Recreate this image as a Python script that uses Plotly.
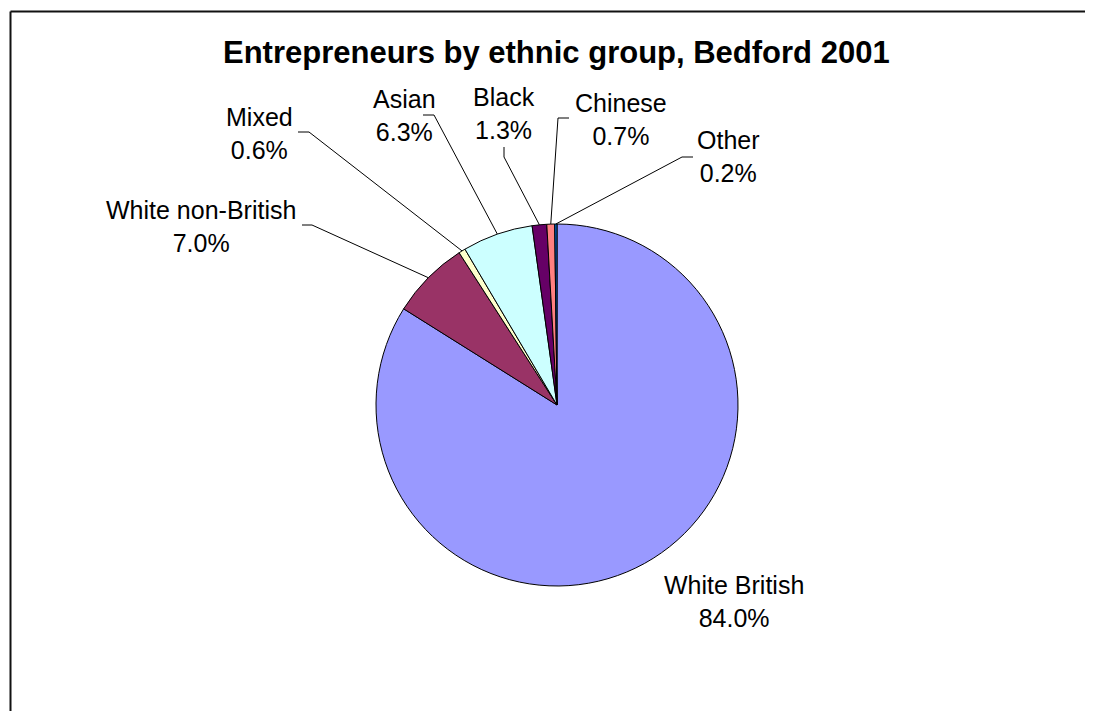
import math
import plotly.graph_objects as go

# ---- data ----
categories = ["White British", "White non-British", "Mixed", "Asian", "Black", "Chinese", "Other"]
shares = [84.0, 7.0, 0.6, 6.3, 1.3, 0.7, 0.2]
share_labels = ["84.0%", "7.0%", "0.6%", "6.3%", "1.3%", "0.7%", "0.2%"]
title_text = "Entrepreneurs by ethnic group, Bedford 2001"

# ---- style / layout ----
colors = ["#9999FF", "#993366", "#FFFFCC", "#CCFFFF", "#660066", "#FF8080", "#0066CC"]
PAGE_OFF = 8                       # browser body margin
W, H = 1093 - PAGE_OFF, 711 - PAGE_OFF
CX, CY, R = 557, 405, 181          # pie centre / radius in page pixels
FONT = "Liberation Sans, Arial, sans-serif"
# label block centres (page pixels)
label_pos = [(734, 601), (201, 226), (259, 133), (404, 115), (504, 113), (621, 119), (728, 157)]
# leader line: start point near label and elbow point (page pixels); None = no leader
leader = [None,
          ((302, 225), (312, 225)),
          ((298, 132), (309, 132)),
          ((423, 115), (434, 115)),
          ((504, 147), (504, 157)),
          ((569, 118), (558, 118)),
          ((693, 157), (682, 157))]


def px(x):
    return (x - PAGE_OFF) / W


def py(y):
    return 1 - (y - PAGE_OFF) / H


fig = go.Figure(go.Pie(
    labels=categories,
    values=shares,
    sort=False,
    direction="clockwise",
    rotation=0,
    marker=dict(colors=colors, line=dict(color="black", width=1)),
    textinfo="none",
    hoverinfo="label+percent",
    showlegend=False,
    domain=dict(x=[px(CX - R), px(CX + R)], y=[py(CY + R), py(CY - R)]),
))

total = sum(shares)
annotations = []
shapes = []
cum = 0.0
for i, (cat, v) in enumerate(zip(categories, shares)):
    mid = (cum + v / 2) / total * 2 * math.pi
    cum += v
    ex = CX + R * math.sin(mid)
    ey = CY - R * math.cos(mid)
    lx, ly = label_pos[i]
    annotations.append(dict(
        x=px(lx), y=py(ly), xref="paper", yref="paper",
        text=f"{cat}<br>{share_labels[i]}", showarrow=False,
        xanchor="center", yanchor="middle", align="center",
        font=dict(family=FONT, size=25, color="black"),
    ))
    if leader[i] is not None:
        (sx, sy), (bx, by) = leader[i]
        path = f"M {px(sx)} {py(sy)} L {px(bx)} {py(by)} L {px(ex)} {py(ey)}"
        shapes.append(dict(type="path", path=path, xref="paper", yref="paper",
                           line=dict(color="black", width=1)))

annotations.append(dict(
    x=px(556), y=py(52), xref="paper", yref="paper",
    text=f"<b>{title_text}</b>", showarrow=False,
    xanchor="center", yanchor="middle",
    font=dict(family=FONT, size=31, color="black"),
))

# chart frame (top and left edges visible)
shapes.append(dict(type="line", xref="paper", yref="paper",
                   x0=px(10.5), y0=py(11.5), x1=1.02, y1=py(11.5),
                   line=dict(color="#111111", width=2)))
shapes.append(dict(type="line", xref="paper", yref="paper",
                   x0=px(10.5), y0=py(11.5), x1=px(10.5), y1=-0.02,
                   line=dict(color="#111111", width=2)))

fig.update_layout(
    width=W, height=H,
    margin=dict(l=0, r=0, t=0, b=0),
    paper_bgcolor="white",
    plot_bgcolor="white",
    annotations=annotations,
    shapes=shapes,
)

fig.write_html("out.html")
